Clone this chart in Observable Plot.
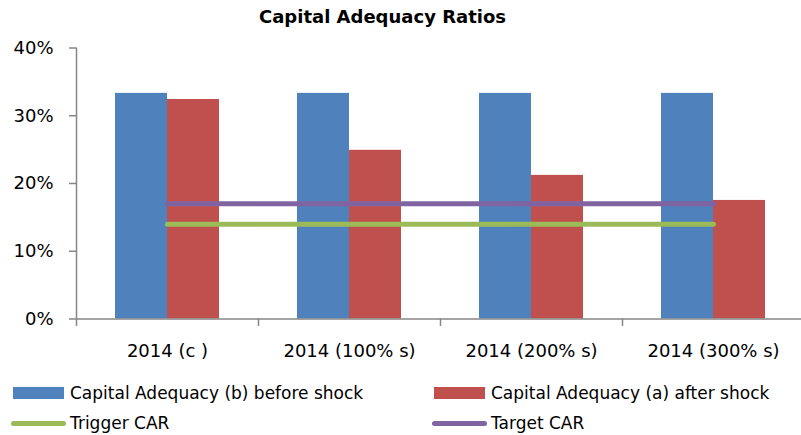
<!DOCTYPE html>
<html>
<head>
<meta charset="utf-8">
<script src="https://cdn.jsdelivr.net/npm/d3@7"></script>
<script src="https://cdn.jsdelivr.net/npm/@observablehq/plot@0.6"></script>
<style>
  html, body { margin: 0; padding: 0; background: #fff; }
  #wrap { position: relative; width: 801px; height: 435px; font-family: "DejaVu Sans", sans-serif; color: #000; overflow: hidden; }
  #title { position: absolute; left: -18px; top: 2px; width: 801px; text-align: center; font-weight: bold; font-size: 18px; line-height: 30px; }
  #chart { position: absolute; left: 0; top: 30px; }
  .lg { position: absolute; font-size: 17px; line-height: 20px; white-space: nowrap; }
  .sw { position: absolute; }
</style>
</head>
<body>
<div id="wrap">
  <div id="title">Capital Adequacy Ratios</div>
  <div id="chart"></div>
</div>
<script>
const categories = ["2014 (c )", "2014 (100% s)", "2014 (200% s)", "2014 (300% s)"];
const beforeShock = [0.333, 0.333, 0.333, 0.333];
const afterShock = [0.324, 0.249, 0.212, 0.175];
const triggerCAR = [0.14, 0.14, 0.14, 0.14];
const targetCAR = [0.17, 0.17, 0.17, 0.17];
const yTicks = [0, 0.1, 0.2, 0.3, 0.4];
const seriesNames = ["Capital Adequacy (b) before shock", "Capital Adequacy (a) after shock", "Trigger CAR", "Target CAR"];
const colors = ["#4F81BD", "#C0504D", "#9BBB59", "#8064A2"];

const rows = categories.map((c, i) => ({
  category: c, before: beforeShock[i], after: afterShock[i], trigger: triggerCAR[i], target: targetCAR[i]
}));

const axisColor = "#868686";
const half = 91;

const chart = Plot.plot({
  width: 801,
  height: 345,
  marginTop: 17.5,
  marginBottom: 56.5,
  marginLeft: 76,
  marginRight: 0,
  style: { fontFamily: "DejaVu Sans, sans-serif", fontSize: "18px", color: "#000", background: "transparent" },
  x: { type: "band", domain: categories, range: [76, 804], padding: 0 },
  y: { domain: [0, 0.4] },
  marks: [
    Plot.barY(rows, { x: "category", y: "before", fill: colors[0], insetLeft: 65, insetRight: 65, dx: -26 }),
    Plot.barY(rows, { x: "category", y: "after", fill: colors[1], insetLeft: 65, insetRight: 65, dx: 26 }),
    Plot.ruleY([0], { stroke: axisColor, strokeWidth: 1.5 }),
    Plot.ruleX([categories[0]], { x: d => d, y1: -0.011, y2: 0.4, dx: -half, stroke: axisColor, strokeWidth: 1.5 }),
    Plot.ruleX(categories.slice(1), { x: d => d, y1: -0.011, y2: 0, dx: -half, stroke: axisColor, strokeWidth: 1.5 }),
    Plot.lineY(rows, { x: "category", y: "trigger", stroke: colors[2], strokeWidth: 5, strokeLinecap: "round" }),
    Plot.lineY(rows, { x: "category", y: "target", stroke: colors[3], strokeWidth: 5, strokeLinecap: "round" }),
    Plot.axisY({ ticks: yTicks, tickFormat: d3.format(".0%"), tickSize: 7, tickPadding: 16, stroke: axisColor, strokeWidth: 1.5, label: null, fontSize: 18 }),
    Plot.axisX({ tickSize: 0, tickPadding: 25, label: null, fontSize: 18 })
  ]
});
document.getElementById("chart").appendChild(chart);

// Legend
const wrap = document.getElementById("wrap");
const legendItems = [
  { name: seriesNames[0], color: colors[0], kind: "rect", sx: 13, tx: 70, y: 393 },
  { name: seriesNames[1], color: colors[1], kind: "rect", sx: 434, tx: 491, y: 393 },
  { name: seriesNames[2], color: colors[2], kind: "line", sx: 13, tx: 70, y: 423 },
  { name: seriesNames[3], color: colors[3], kind: "line", sx: 434, tx: 491, y: 423 }
];
legendItems.forEach(it => {
  const sw = document.createElement("div");
  sw.className = "sw";
  if (it.kind === "rect") {
    sw.style.cssText = `left:${it.sx}px;top:${it.y - 6}px;width:51px;height:12px;background:${it.color};`;
  } else {
    sw.style.cssText = `left:${it.sx - 2}px;top:${it.y - 2.5}px;width:55px;height:5px;border-radius:3px;background:${it.color};`;
  }
  wrap.appendChild(sw);
  const t = document.createElement("div");
  t.className = "lg";
  t.textContent = it.name;
  t.style.left = it.tx + "px";
  t.style.top = (it.y - 10) + "px";
  wrap.appendChild(t);
});
</script>
</body>
</html>
